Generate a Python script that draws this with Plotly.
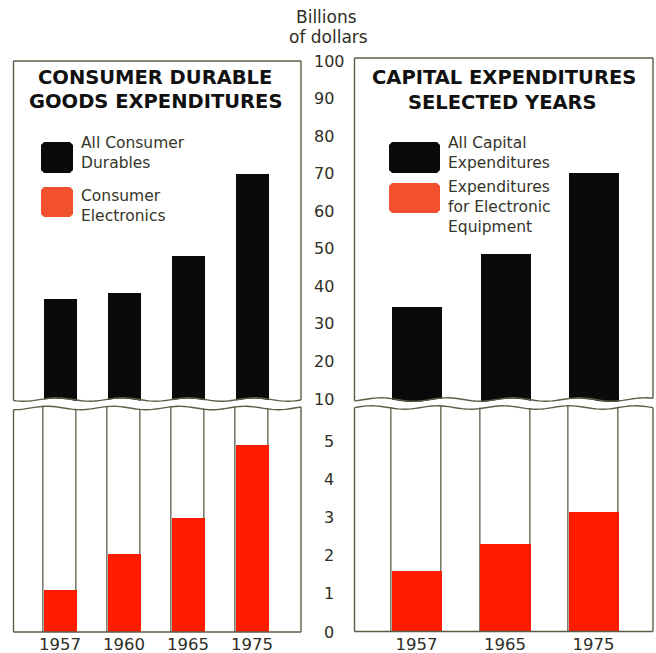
import numpy as np
import plotly.graph_objects as go

# ---- data (billions of dollars) ----
consumer_years = ["1957", "1960", "1965", "1975"]
consumer_durables = [36.6, 38.3, 48.1, 69.9]
consumer_electronics = [1.1, 2.05, 2.98, 4.9]

capital_years = ["1957", "1965", "1975"]
capital_all = [34.5, 48.6, 70.2]
capital_electronic = [1.6, 2.3, 3.14]

upper_ticks = [10, 20, 30, 40, 50, 60, 70, 80, 90, 100]
lower_ticks = [0, 1, 2, 3, 4, 5]

# ---- page geometry helpers (pixels -> paper) ----
W, H = 656, 653


def fx(px):
    return px / W


def fy(py):
    return 1 - py / H


INK = "#2e2e26"
FRAME = "#5d5d48"
RED = "#ff1c00"
LEG_RED = "#f2512f"
BLACK = "#0a0a0a"

# upper scale: 10 at y=399 px, 100 at y=61 px ; lower scale: 0 at 632 px, 38.2 px per unit
UP_TOP, UP_BOT = 61, 403
LO_TOP, LO_BOT = 405, 632


def up_val(p):
    return 10 + (399 - p) * 90 / 338


def lo_val(p):
    return (632 - p) / 38.2


upper_range = [up_val(UP_BOT), up_val(UP_TOP)]
lower_range = [lo_val(LO_BOT), lo_val(LO_TOP)]
LOWER_FRAME = 7.0  # white frame columns run through the whole lower panel

LEFT_X = (13.5, 301)
RIGHT_X = (354.5, 653)

fig = go.Figure()

# left panel
fig.add_trace(go.Bar(x=consumer_years, y=consumer_durables, width=0.52,
                     marker=dict(color=BLACK, line=dict(width=0)),
                     xaxis="x", yaxis="y", showlegend=False))
fig.add_trace(go.Bar(x=consumer_years, y=[LOWER_FRAME] * len(consumer_years), width=0.52,
                     marker=dict(color="white", line=dict(color=FRAME, width=1.3)),
                     xaxis="x2", yaxis="y2", showlegend=False, hoverinfo="skip"))
fig.add_trace(go.Bar(x=consumer_years, y=consumer_electronics, width=0.53,
                     marker=dict(color=RED, line=dict(width=0)),
                     xaxis="x2", yaxis="y2", showlegend=False))

# right panel
fig.add_trace(go.Bar(x=capital_years, y=capital_all, width=0.565,
                     marker=dict(color=BLACK, line=dict(width=0)),
                     xaxis="x3", yaxis="y3", showlegend=False))
fig.add_trace(go.Bar(x=capital_years, y=[LOWER_FRAME] * len(capital_years), width=0.565,
                     marker=dict(color="white", line=dict(color=FRAME, width=1.3)),
                     xaxis="x4", yaxis="y4", showlegend=False, hoverinfo="skip"))
fig.add_trace(go.Bar(x=capital_years, y=capital_electronic, width=0.575,
                     marker=dict(color=RED, line=dict(width=0)),
                     xaxis="x4", yaxis="y4", showlegend=False))

tick_font = dict(family="DejaVu Sans", size=16, color=INK)
year_font = dict(family="DejaVu Sans", size=16.5, color=INK)

hidden = dict(showgrid=False, zeroline=False, showline=False, ticks="", automargin=False)

left_range = [(LEFT_X[0] - 60) / 64, (LEFT_X[1] - 60) / 64]
right_range = [(RIGHT_X[0] - 416.5) / 88.5, (RIGHT_X[1] - 416.5) / 88.5]

fig.update_layout(
    width=W, height=H, autosize=False,
    margin=dict(l=0, r=0, t=0, b=0, pad=0, autoexpand=False),
    paper_bgcolor="white", plot_bgcolor="white",
    barmode="overlay",
    bargap=0,
    xaxis=dict(domain=[fx(LEFT_X[0]), fx(LEFT_X[1])], type="category",
               categoryorder="array", categoryarray=consumer_years,
               range=left_range, anchor="y", showticklabels=False, **hidden),
    yaxis=dict(domain=[fy(UP_BOT), fy(UP_TOP)], range=upper_range, anchor="x",
               side="right", tickvals=upper_ticks, ticktext=[str(v) for v in upper_ticks],
               tickfont=tick_font, ticklabelstandoff=12, **hidden),
    xaxis2=dict(domain=[fx(LEFT_X[0]), fx(LEFT_X[1])], type="category",
                categoryorder="array", categoryarray=consumer_years,
                range=left_range, anchor="y2", tickfont=year_font,
                ticklabelstandoff=0, **hidden),
    yaxis2=dict(domain=[fy(LO_BOT), fy(LO_TOP)], range=lower_range, anchor="x2",
                side="right", tickvals=lower_ticks, ticktext=[str(v) for v in lower_ticks],
                tickfont=tick_font, ticklabelstandoff=22, **hidden),
    xaxis3=dict(domain=[fx(RIGHT_X[0]), fx(RIGHT_X[1])], type="category",
                categoryorder="array", categoryarray=capital_years,
                range=right_range, anchor="y3", showticklabels=False, **hidden),
    yaxis3=dict(domain=[fy(UP_BOT), fy(UP_TOP)], range=upper_range, anchor="x3",
                showticklabels=False, **hidden),
    xaxis4=dict(domain=[fx(RIGHT_X[0]), fx(RIGHT_X[1])], type="category",
                categoryorder="array", categoryarray=capital_years,
                range=right_range, anchor="y4", tickfont=year_font,
                ticklabelstandoff=0, **hidden),
    yaxis4=dict(domain=[fy(LO_BOT), fy(LO_TOP)], range=lower_range, anchor="x4",
                showticklabels=False, **hidden),
)


# ---- panel frames with the wavy scale break ----
def wave(x0, x1, y0, amp=1.7, period=66.0, phase=0.0, n=90):
    xs = np.linspace(x0, x1, n)
    ys = y0 + amp * np.sin(2 * np.pi * (xs - x0) / period + phase)
    return xs, ys


def to_path(xs, ys, close=False):
    pts = [f"{fx(x):.5f},{fy(y):.5f}" for x, y in zip(xs, ys)]
    return "M" + " L".join(pts) + (" Z" if close else "")


def rounded_rect(x0, y0, x1, y1, r=3):
    pts = [(x0 + r, y0), (x1 - r, y0), (x1, y0 + r), (x1, y1 - r),
           (x1 - r, y1), (x0 + r, y1), (x0, y1 - r), (x0, y0 + r)]
    return "M" + " L".join(f"{fx(a):.5f},{fy(b):.5f}" for a, b in pts) + " Z"


shapes = []
panels = [
    dict(x0=LEFT_X[0], x1=LEFT_X[1], top=61, up=399.5, lo=408, bot=632, ph=0.6),
    dict(x0=RIGHT_X[0], x1=RIGHT_X[1], top=58, up=399.5, lo=407.5, bot=631.5, ph=2.2),
]
for p in panels:
    ux, uy = wave(p["x0"] - 1, p["x1"] + 1, p["up"], phase=p["ph"])
    lx, ly = wave(p["x0"] - 1, p["x1"] + 1, p["lo"], phase=p["ph"] + 0.9)
    # white gap between the two halves
    gx = np.concatenate([ux, lx[::-1]])
    gy = np.concatenate([uy + 0.8, ly[::-1] - 0.8])
    shapes.append(dict(type="path", xref="paper", yref="paper", path=to_path(gx, gy, True),
                       fillcolor="white", line=dict(width=0), layer="above"))
    ux, uy = wave(p["x0"], p["x1"], p["up"], phase=p["ph"])
    lx, ly = wave(p["x0"], p["x1"], p["lo"], phase=p["ph"] + 0.9)
    for xs, ys in ((ux, uy), (lx, ly)):
        shapes.append(dict(type="path", xref="paper", yref="paper", path=to_path(xs, ys),
                           line=dict(color=FRAME, width=1.4), layer="above"))
    segs = [
        (p["x0"], p["top"], p["x1"], p["top"]),
        (p["x0"], p["top"], p["x0"], uy[0]),
        (p["x1"], p["top"], p["x1"], uy[-1]),
        (p["x0"], ly[0], p["x0"], p["bot"]),
        (p["x1"], ly[-1], p["x1"], p["bot"]),
        (p["x0"], p["bot"], p["x1"], p["bot"]),
    ]
    for a, b, c, d in segs:
        shapes.append(dict(type="line", xref="paper", yref="paper",
                           x0=fx(a), y0=fy(b), x1=fx(c), y1=fy(d),
                           line=dict(color=FRAME, width=1.4), layer="above"))

# legend swatches
for (x0, y0, x1, y1, col) in [
    (41, 142, 73, 173, BLACK), (41, 187, 73, 217, LEG_RED),
    (389, 142, 440, 173, BLACK), (389, 183, 440, 213, LEG_RED),
]:
    shapes.append(dict(type="path", xref="paper", yref="paper",
                       path=rounded_rect(x0, y0, x1, y1),
                       fillcolor=col, line=dict(width=0), layer="above"))

fig.update_layout(shapes=shapes)

# ---- text ----
ann = []
title_font = dict(family="DejaVu Sans", size=19.5, color="#111111", weight="bold")
for text, x, y in [
    ("CONSUMER DURABLE", 155, 77.5), ("GOODS EXPENDITURES", 155, 101.5),
    ("CAPITAL EXPENDITURES", 503.5, 77), ("SELECTED YEARS", 502.5, 102.5),
]:
    ann.append(dict(text=text, x=fx(x), y=fy(y), xref="paper", yref="paper",
                    xanchor="center", yanchor="middle", showarrow=False, font=title_font))

leg_font = dict(family="DejaVu Sans", size=15.5, color="#35352a")
for text, x, y in [
    ("All Consumer<br>Durables", 79, 152.5),
    ("Consumer<br>Electronics", 79, 205.5),
    ("All Capital<br>Expenditures", 446, 152.5),
    ("Expenditures<br>for Electronic<br>Equipment", 446, 207.5),
]:
    ann.append(dict(text=text, x=fx(x), y=fy(y), xref="paper", yref="paper",
                    xanchor="left", yanchor="middle", align="left", showarrow=False,
                    font=leg_font))

unit_font = dict(family="DejaVu Sans", size=17, color=INK)
for text, x, y in [("Billions", 326, 17), ("of dollars", 329, 37)]:
    ann.append(dict(text=text, x=fx(x), y=fy(y), xref="paper", yref="paper",
                    xanchor="center", yanchor="middle", showarrow=False, font=unit_font))

fig.update_layout(annotations=ann)

fig.write_html("out.html")
